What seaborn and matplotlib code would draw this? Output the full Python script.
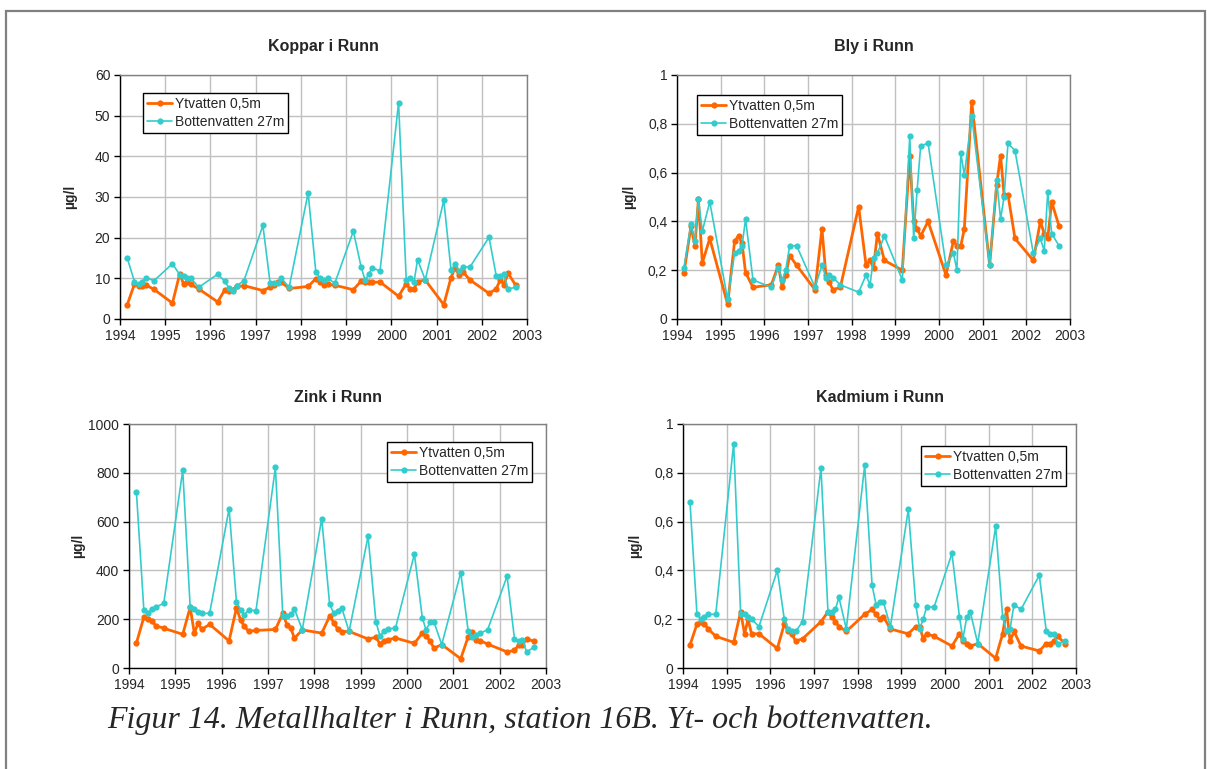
import matplotlib
matplotlib.use("Agg")
import matplotlib.pyplot as plt
import seaborn as sns
import pandas as pd
from matplotlib.patches import Rectangle
from matplotlib.ticker import FuncFormatter, MultipleLocator

# ---------------- data ----------------
dates = [1994.16, 1994.32, 1994.41, 1994.49, 1994.58, 1994.75,
         1995.16, 1995.32, 1995.41, 1995.49, 1995.57, 1995.74,
         1996.16, 1996.32, 1996.41, 1996.49, 1996.58, 1996.74,
         1997.16, 1997.32, 1997.41, 1997.49, 1997.57, 1997.74,
         1998.16, 1998.33, 1998.42, 1998.50, 1998.59, 1998.75,
         1999.16, 1999.33, 1999.42, 1999.50, 1999.58, 1999.75,
         2000.16, 2000.33, 2000.41, 2000.50, 2000.58, 2000.75,
         2001.16, 2001.32, 2001.41, 2001.49, 2001.58, 2001.74,
         2002.16, 2002.32, 2002.41, 2002.49, 2002.58, 2002.75]

cu_yt = [3.5, 8.6, 8.2, 8.2, 8.3, 7.3,
         3.9, 11.1, 8.5, 9.2, 8.5, 7.4,
         4.2, 7.2, 7.0, 7.2, 8.0, 8.2,
         7.0, 7.8, 8.3, 9.2, 9.0, 7.5,
         8.0, 9.9, 9.2, 8.4, 8.5, 8.3,
         7.2, 9.3, 9.2, 9.0, 9.0, 9.1,
         5.6, 8.7, 7.4, 7.4, 9.2, 9.6,
         3.5, 10.2, 12.6, 10.9, 11.6, 9.6,
         6.3, 7.4, 9.7, 8.4, 11.3, 8.3]
cu_bo = [15.0, 9.2, 8.6, 9.2, 10.2, 9.4,
         13.6, 10.9, 10.5, 10.0, 10.0, 7.8,
         11.0, 9.3, 7.5, 7.0, 8.2, 9.4,
         23.0, 8.8, 8.8, 8.8, 10.0, 7.8,
         31.0, 11.6, 10.1, 9.7, 10.0, 8.8,
         21.6, 12.9, 9.5, 11.0, 12.6, 11.8,
         53.2, 9.5, 10.1, 9.0, 14.6, 9.6,
         29.2, 12.0, 13.5, 11.8, 12.8, 12.8,
         20.1, 10.6, 10.6, 11.0, 7.4, 7.8]

pb_yt = [0.19, 0.38, 0.30, 0.49, 0.23, 0.33,
         0.06, 0.32, 0.34, 0.31, 0.19, 0.13,
         0.14, 0.22, 0.13, 0.18, 0.26, 0.22,
         0.12, 0.37, 0.18, 0.15, 0.12, 0.13,
         0.46, 0.22, 0.24, 0.21, 0.35, 0.24,
         0.20, 0.67, 0.40, 0.37, 0.34, 0.40,
         0.18, 0.32, 0.30, 0.30, 0.37, 0.89,
         0.22, 0.55, 0.67, 0.51, 0.51, 0.33,
         0.24, 0.40, 0.35, 0.33, 0.48, 0.38]
pb_bo = [0.21, 0.39, 0.32, 0.49, 0.36, 0.48,
         0.08, 0.27, 0.28, 0.30, 0.41, 0.16,
         0.13, 0.21, 0.16, 0.20, 0.30, 0.30,
         0.13, 0.22, 0.17, 0.18, 0.17, 0.14,
         0.11, 0.18, 0.14, 0.25, 0.27, 0.34,
         0.16, 0.75, 0.33, 0.53, 0.71, 0.72,
         0.22, 0.27, 0.20, 0.68, 0.59, 0.83,
         0.22, 0.57, 0.41, 0.50, 0.72, 0.69,
         0.27, 0.33, 0.28, 0.52, 0.35, 0.30]

zn_yt = [102, 208, 201, 193, 173, 163,
         138, 249, 143, 183, 158, 179,
         111, 247, 195, 171, 150, 154,
         158, 224, 176, 165, 122, 156,
         143, 212, 186, 161, 149, 150,
         119, 126, 98, 111, 115, 123,
         101, 143, 131, 111, 81, 96,
         38, 128, 148, 113, 112, 98,
         66, 72, 94, 94, 119, 109]
zn_bo = [721, 239, 225, 242, 250, 265,
         810, 250, 243, 230, 224, 224,
         653, 269, 239, 217, 239, 234,
         822, 212, 213, 220, 242, 157,
         612, 261, 224, 235, 247, 150,
         540, 188, 130, 153, 161, 163,
         467, 206, 157, 187, 190, 96,
         391, 152, 128, 137, 143, 157,
         376, 119, 111, 116, 66, 86]

cd_yt = [0.094, 0.18, 0.19, 0.18, 0.16, 0.13,
         0.105, 0.23, 0.14, 0.20, 0.14, 0.14,
         0.08, 0.18, 0.15, 0.14, 0.11, 0.12,
         0.19, 0.23, 0.21, 0.19, 0.17, 0.15,
         0.22, 0.24, 0.22, 0.20, 0.21, 0.16,
         0.14, 0.17, 0.17, 0.12, 0.14, 0.13,
         0.09, 0.14, 0.11, 0.10, 0.09, 0.10,
         0.04, 0.14, 0.24, 0.11, 0.15, 0.09,
         0.07, 0.10, 0.10, 0.11, 0.13, 0.10]
cd_bo = [0.68, 0.22, 0.20, 0.21, 0.22, 0.22,
         0.92, 0.22, 0.22, 0.21, 0.20, 0.17,
         0.40, 0.20, 0.16, 0.15, 0.15, 0.19,
         0.82, 0.23, 0.23, 0.24, 0.29, 0.16,
         0.83, 0.34, 0.26, 0.27, 0.27, 0.17,
         0.65, 0.26, 0.16, 0.20, 0.25, 0.25,
         0.47, 0.21, 0.12, 0.21, 0.23, 0.10,
         0.58, 0.21, 0.15, 0.16, 0.26, 0.24,
         0.38, 0.15, 0.14, 0.14, 0.10, 0.11]

titles = ["Koppar i Runn", "Bly i Runn", "Zink i Runn", "Kadmium i Runn"]
series_names = ["Ytvatten 0,5m", "Bottenvatten 27m"]
year_ticks = [1994, 1995, 1996, 1997, 1998, 1999, 2000, 2001, 2002, 2003]
ylabel = "µg/l"
caption = "Figur 14. Metallhalter i Runn, station 16B. Yt- och bottenvatten."

# ---------------- style ----------------
sns.set_style("whitegrid")
plt.rcParams["font.family"] = ["Liberation Sans", "DejaVu Sans"]

W, H = 1207, 769
fig = plt.figure(figsize=(W / 100, H / 100), dpi=100)
fig.patch.set_facecolor("white")

ORANGE = "#FF6600"
CYAN = "#33CCCC"

# pixel boxes: left, right, top, bottom
boxes = [(120, 527, 75, 319), (677, 1070, 75, 319),
         (129, 546, 424, 668), (683, 1076, 424, 668)]
title_y = [47, 47, 397, 397]
legend_pos = [(143, 93), (697, 95), (387, 442), (921, 446)]
panels = [(cu_yt, cu_bo, 60, 10), (pb_yt, pb_bo, 1, 0.2),
          (zn_yt, zn_bo, 1000, 200), (cd_yt, cd_bo, 1, 0.2)]


def comma_fmt(v, pos):
    s = "%g" % round(v, 6)
    return s.replace(".", ",")


for i, ((l, r, t, b), (yt, bo, ymax, ystep)) in enumerate(zip(boxes, panels)):
    ax = fig.add_axes([l / W, 1 - b / H, (r - l) / W, (b - t) / H])
    df = pd.DataFrame({"date": dates, "yt": yt, "bo": bo})
    sns.lineplot(data=df, x="date", y="yt", ax=ax, color=ORANGE, linewidth=2.0,
                 marker="o", markersize=4.5, markeredgewidth=0, label=series_names[0],
                 estimator=None, sort=False, zorder=3)
    sns.lineplot(data=df, x="date", y="bo", ax=ax, color=CYAN, linewidth=1.2,
                 marker="o", markersize=4.5, markeredgewidth=0, label=series_names[1],
                 estimator=None, sort=False, zorder=4)
    ax.set_xlim(1994, 2003)
    ax.set_ylim(0, ymax)
    ax.set_xticks(year_ticks)
    ax.set_xticklabels([str(y) for y in year_ticks])
    ax.yaxis.set_major_locator(MultipleLocator(ystep))
    ax.yaxis.set_major_formatter(FuncFormatter(comma_fmt))
    ax.grid(True, color="#C0C0C0", linewidth=1.0)
    ax.set_axisbelow(True)
    ax.set_facecolor("white")
    for side in ["top", "right"]:
        ax.spines[side].set_color("#808080")
        ax.spines[side].set_linewidth(1.0)
    for side in ["left", "bottom"]:
        ax.spines[side].set_color("#000000")
        ax.spines[side].set_linewidth(1.0)
    ax.tick_params(axis="both", which="major", direction="out", length=4, width=1,
                   color="black", labelsize=10, pad=3, bottom=True, left=True)
    ax.set_xlabel("")
    ax.set_ylabel(ylabel, fontsize=10, fontweight="bold")
    ax.yaxis.set_label_coords(-0.105, 0.5)
    ax.text(0.5, 1 + (t - title_y[i]) / (b - t), titles[i], transform=ax.transAxes,
            ha="center", va="center", fontsize=11.5, fontweight="bold")
    lx, ly = legend_pos[i]
    leg = ax.legend(loc="upper left", bbox_to_anchor=(lx / W, 1 - ly / H),
                    bbox_transform=fig.transFigure, frameon=True, fancybox=False,
                    edgecolor="black", framealpha=1, fontsize=10, handlelength=1.8,
                    handletextpad=0.2, borderpad=0.3, labelspacing=0.25,
                    borderaxespad=0)
    leg.get_frame().set_linewidth(1.0)

# outer frame
fig.patches.append(Rectangle((6 / W, -0.01), (W - 8) / W, 1 - 11 / H + 0.01,
                             transform=fig.transFigure, fill=False,
                             edgecolor="#808080", linewidth=1.6))

fig.text(107 / W, 1 - 720 / H, caption, fontsize=23, fontstyle="italic",
         family=["Liberation Serif", "DejaVu Serif"], ha="left", va="center")

fig.savefig("out.png", dpi=100)
